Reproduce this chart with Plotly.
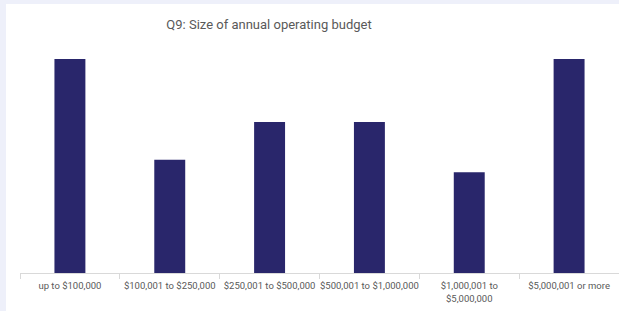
import plotly.graph_objects as go

categories = ["up to $100,000", "$100,001 to $250,000", "$250,001 to $500,000",
              "$500,001 to $1,000,000", "$1,000,001 to<br>$5,000,000", "$5,000,001 or more"]
values = [17, 9, 12, 12, 8, 17]

W, H = 619, 311
ml, mr, mt, mb = 20, 0, 59, 38
ph = H - mt - mb
pw = W - ml - mr

fig = go.Figure(go.Bar(x=categories, y=values, marker_color="#29266B",
                       marker_line_width=0, width=0.31, hoverinfo="skip"))

fig.add_shape(type="rect", xref="paper", yref="paper",
              x0=(6 - ml) / pw, x1=1.05, y0=-(mb + 5) / ph, y1=(H - mb - 4) / ph,
              fillcolor="white", line_width=0, layer="below")

fig.update_layout(
    width=W, height=H,
    margin=dict(l=ml, r=mr, t=mt, b=mb),
    paper_bgcolor="#EEF0FA",
    plot_bgcolor="rgba(0,0,0,0)",
    title=dict(text="Q9: Size of annual operating budget", x=269 / W, xanchor="center",
               y=1 - 24 / H, yanchor="middle",
               font=dict(family="Roboto", size=13, color="#595959")),
    font=dict(family="Roboto", size=9.5, color="#595959"),
    showlegend=False,
)
fig.update_xaxes(showline=True, linecolor="#D9D9D9", linewidth=1,
                 ticks="outside", tickson="boundaries", ticklen=5, tickcolor="#D9D9D9",
                 ticklabelstandoff=4,
                 tickfont=dict(size=9.5, color="#595959"), tickangle=0, showgrid=False)
fig.update_yaxes(visible=False, range=[0, 17], showgrid=False)

fig.write_html("out.html", config={"displayModeBar": False},
               post_script="document.body.style.margin='0';")
